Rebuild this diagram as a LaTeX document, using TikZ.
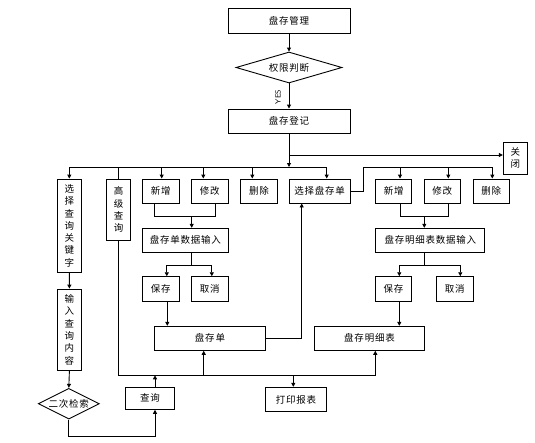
\documentclass[tikz,border=0pt]{standalone}
\usepackage{fontspec}
\newfontfamily\cjk[LetterSpace=8]{Noto Sans CJK SC}
\usetikzlibrary{arrows.meta,shapes.geometric}
\begin{document}
\begin{tikzpicture}[x=1pt,y=-1pt,
  box/.style={draw,rectangle,inner sep=0pt,line width=0.9pt,font=\cjk\fontsize{9.5}{12.3}\selectfont,align=center},
  dia/.style={draw,diamond,inner sep=0pt,line width=0.9pt,font=\cjk\fontsize{9.5}{12.3}\selectfont},
  ln/.style={line width=0.9pt},
  arw/.style={line width=0.9pt,-{Triangle[length=4pt,width=4pt]}},
  arwb/.style={line width=0.9pt,{Triangle[length=4pt,width=4pt]}-{Triangle[length=4pt,width=4pt]}}]
\useasboundingbox (0,0) rectangle (535,442);
% nodes
\node[box,minimum width=122pt,minimum height=24.5pt] (mgmt) at (289,20.75) {盘存管理};
\node[dia,aspect=3.4,minimum width=106pt,minimum height=31pt] (auth) at (289,67.5) {权限判断};
\node[box,minimum width=122pt,minimum height=24pt] (reg) at (289,121) {盘存登记};
\node[box,minimum width=24pt,minimum height=31.7pt] (close) at (515.3,158.2) {关\\闭};
\node[box,minimum width=24pt,minimum height=93.3pt] (kw) at (69.3,225.7) {选\\择\\查\\询\\关\\键\\字};
\node[box,minimum width=23.6pt,minimum height=61.3pt] (adv) at (118.5,209.7) {高\\级\\查\\询};
\node[box,minimum width=36.7pt,minimum height=24pt] (add1) at (160.7,191) {新增};
\node[box,minimum width=37pt,minimum height=24pt] (mod1) at (209.8,191) {修改};
\node[box,minimum width=36.6pt,minimum height=24pt] (del1) at (259,191) {删除};
\node[box,minimum width=60.7pt,minimum height=24pt] (sel) at (319.7,191) {选择盘存单};
\node[box,minimum width=36pt,minimum height=24pt] (add2) at (393.7,191) {新增};
\node[box,minimum width=36pt,minimum height=24pt] (mod2) at (442.3,191) {修改};
\node[box,minimum width=36pt,minimum height=24pt] (del2) at (491.3,191) {删除};
\node[box,minimum width=86pt,minimum height=24pt] (in1) at (185.3,240.3) {盘存单数据输入};
\node[box,minimum width=109pt,minimum height=24pt] (in2) at (430.3,240.3) {盘存明细表数据输入};
\node[box,minimum width=37pt,minimum height=24.6pt] (save1) at (160.8,289) {保存};
\node[box,minimum width=37pt,minimum height=24.6pt] (cancel1) at (209.8,289) {取消};
\node[box,minimum width=36.4pt,minimum height=24.6pt] (save2) at (393.5,289) {保存};
\node[box,minimum width=37pt,minimum height=24.6pt] (cancel2) at (454.8,289) {取消};
\node[box,minimum width=111.4pt,minimum height=24pt] (list1) at (210,338.3) {盘存单};
\node[box,minimum width=110.4pt,minimum height=24pt] (list2) at (369.5,338.3) {盘存明细表};
\node[box,minimum width=24.2pt,minimum height=81.3pt] (inq) at (69.4,329.7) {输\\入\\查\\询\\内\\容};
\node[dia,aspect=2,minimum width=61pt,minimum height=30.7pt] (retr) at (68.8,403.7) {二次检索};
\node[box,minimum width=48.6pt,minimum height=22pt] (query) at (150,398.3) {查询};
\node[box,minimum width=61.4pt,minimum height=24.4pt] (print) at (296,399.5) {打印报表};
\node[rotate=90,font=\sffamily\fontsize{7.5}{8}\selectfont,inner sep=0pt] (yes) at (278,97) {YES};
% helper levels
\coordinate (tb) at (0,167);
\coordinate (cj) at (0,155);
\coordinate (j1) at (0,216.3);
\coordinate (j2) at (0,265);
\coordinate (bb) at (0,375.3);
\coordinate (bl) at (0,436.3);
% top chain
\draw[arw] (mgmt.south) -- (auth.north);
\draw[arw] (auth.south) -- (reg.north);
\draw[arw] (reg.south) -- (reg.south |- tb);
\draw[arw] (reg.south |- cj) -- (close.west |- cj);
% top bus
\draw[ln] (kw.north |- tb) -- ([xshift=7pt]sel.north |- tb);
\draw[arw] (kw.north |- tb) -- (kw.north);
\draw[ln] ([xshift=0.2pt]adv.north |- tb) -- ([xshift=0.2pt]adv.north);
\draw[arw] ([xshift=1pt]add1.north |- tb) -- ([xshift=1pt]add1.north);
\draw[arw] ([xshift=-6.5pt]mod1.north |- tb) -- ([xshift=-6.5pt]mod1.north);
\draw[arw] ([xshift=-6.7pt]del1.north |- tb) -- ([xshift=-6.7pt]del1.north);
\draw[arw] ([xshift=7pt]sel.north |- tb) -- ([xshift=7pt]sel.north);
% right bus
\draw[ln] (sel.east) -- ++(12.7,0) coordinate (rc) -- (rc |- tb) -- ([xshift=1pt]del2.north |- tb);
\draw[arw] ([xshift=6.3pt]add2.north |- tb) -- ([xshift=6.3pt]add2.north);
\draw[arw] ([xshift=6pt]mod2.north |- tb) -- ([xshift=6pt]mod2.north);
\draw[arw] ([xshift=1pt]del2.north |- tb) -- ([xshift=1pt]del2.north);
% left edit chain
\draw[ln] ([xshift=-6.4pt]add1.south) -- ([xshift=-6.4pt]add1.south |- j1) -- ([xshift=5.9pt]mod1.south |- j1) -- ([xshift=5.9pt]mod1.south);
\draw[arw] ([xshift=6.4pt]in1.north |- j1) -- ([xshift=6.4pt]in1.north);
\draw[ln] ([xshift=6.4pt]in1.south) -- ([xshift=6.4pt]in1.south |- j2);
\draw[arwb] ([xshift=6pt]save1.north) -- ([xshift=6pt]save1.north |- j2) -- ([xshift=2pt]cancel1.north |- j2) -- ([xshift=2pt]cancel1.north);
\draw[arw] ([xshift=6.5pt]save1.south) -- ([xshift=6.5pt]save1.south |- list1.north);
\draw[arw] (list1.east) -- ([xshift=-18pt]sel.south |- list1.east) -- ([xshift=-18pt]sel.south);
% right edit chain
\draw[ln] ([xshift=6.3pt]add2.south) -- ([xshift=6.3pt]add2.south |- j1) -- ([xshift=6pt]mod2.south |- j1) -- ([xshift=6pt]mod2.south);
\draw[arw] ([xshift=-6pt]in2.north |- j1) -- ([xshift=-6pt]in2.north);
\draw[ln] ([xshift=-6pt]in2.south) -- ([xshift=-6pt]in2.south |- j2);
\draw[arwb] ([xshift=5.8pt]save2.north) -- ([xshift=5.8pt]save2.north |- j2) -- ([xshift=5.5pt]cancel2.north |- j2) -- ([xshift=5.5pt]cancel2.north);
\draw[arw] ([xshift=5.8pt]save2.south) -- ([xshift=5.8pt]save2.south |- list2.north);
% bottom bus
\draw[arw] ([xshift=0.2pt]adv.south) -- ([xshift=0.2pt]adv.south |- bb) -- ([xshift=5.8pt]list2.south |- bb) -- ([xshift=5.8pt]list2.south);
\draw[arw] ([xshift=-6.3pt]list1.south |- bb) -- ([xshift=-6.3pt]list1.south);
\draw[arw] ([xshift=-2.7pt]print.north |- bb) -- ([xshift=-2.7pt]print.north);
\draw[arw] ([xshift=5pt]query.north) -- ([xshift=5pt]query.north |- bb);
% left query chain
\draw[arw] (kw.south) -- (inq.north);
\draw[arw] (inq.south) -- (retr.north);
\draw[arw] (retr.south) -- (retr.south |- bl) -- ([xshift=5pt]query.south |- bl) -- ([xshift=5pt]query.south);
\end{tikzpicture}
\end{document}
